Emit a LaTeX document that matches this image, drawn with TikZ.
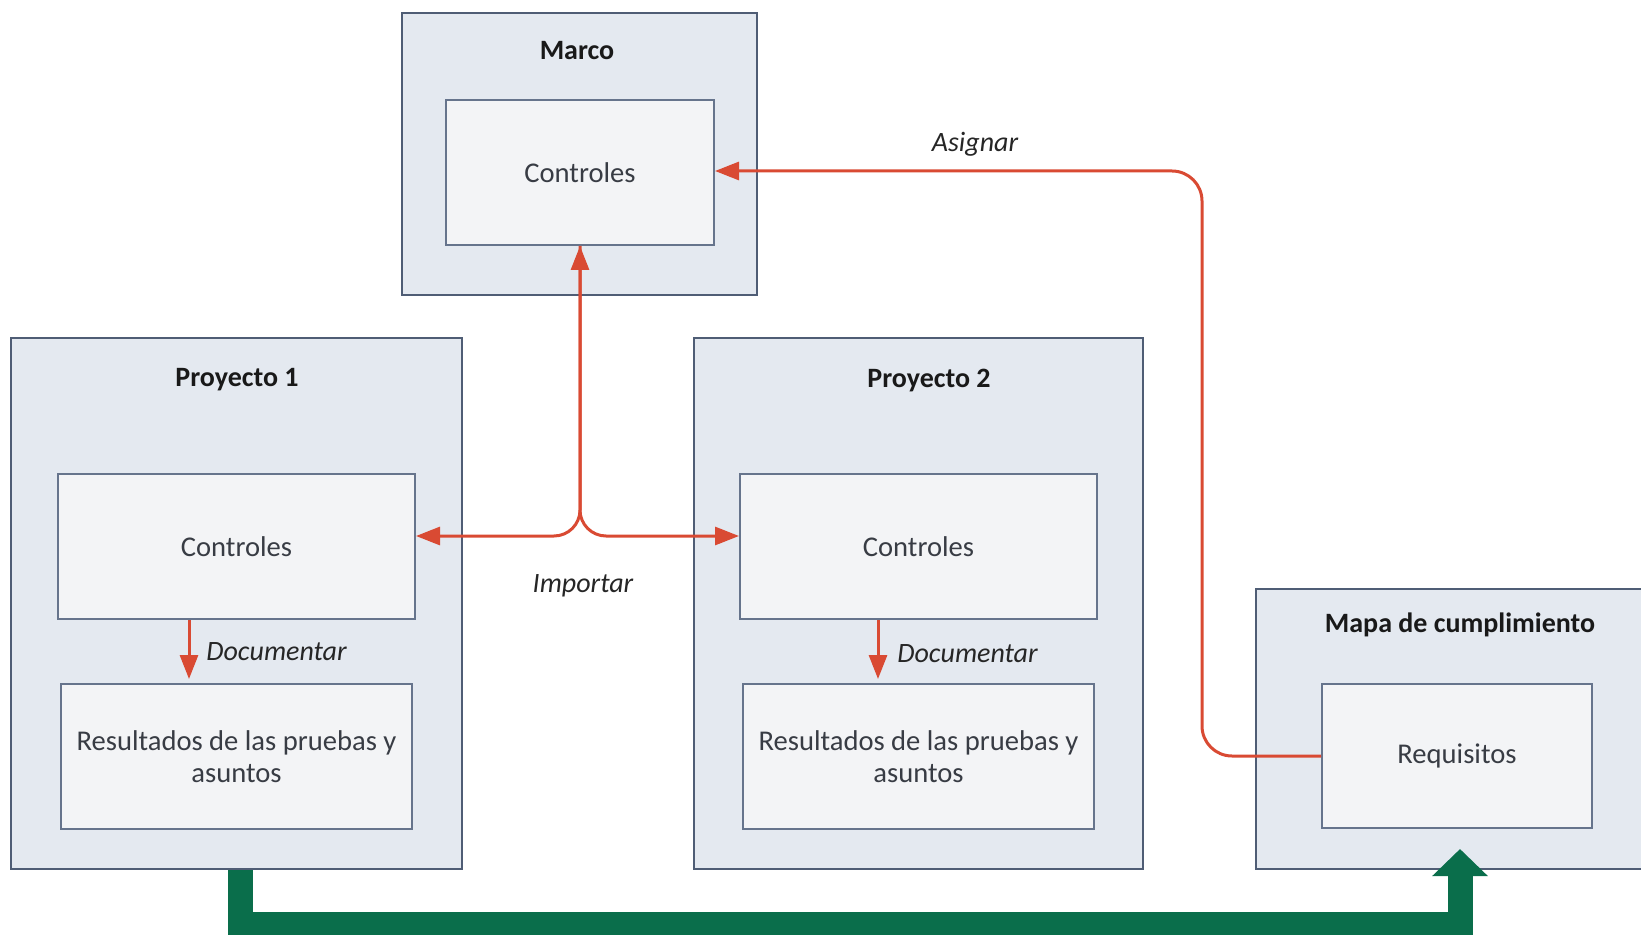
\documentclass[tikz,border=0pt]{standalone}
\usepackage{fontspec}
\setmainfont{Carlito}
\usetikzlibrary{arrows.meta}
\definecolor{outerfill}{HTML}{E4E9F0}
\definecolor{outerdraw}{HTML}{4F5D75}
\definecolor{innerfill}{HTML}{F3F4F6}
\definecolor{innerdraw}{HTML}{66748C}
\definecolor{redc}{HTML}{D94A33}
\definecolor{greenc}{HTML}{0A6E4B}
\definecolor{txt}{HTML}{383C44}
\begin{document}
\begin{tikzpicture}[x=0.5pt,y=-0.5pt,
 outerbox/.style={draw=outerdraw, fill=outerfill, line width=1pt, inner sep=0pt},
 innerbox/.style={draw=innerdraw, fill=innerfill, line width=1pt, inner sep=0pt, text=txt, font=\fontsize{14.3}{16}\selectfont, align=center},
 title/.style={font=\fontsize{14}{16}\selectfont\bfseries, text=black!90, inner sep=0pt},
 lbl/.style={font=\fontsize{14}{16}\selectfont\itshape, text=black!85, inner sep=0pt},
 redtip/.tip={Triangle[length=12pt,width=9pt]},
 redline/.style={draw=redc, line width=1.5pt},
 redarrow/.style={redline, -redtip},
 greenarrow/.style={draw=greenc, line width=12.5pt, -{Triangle[length=13.5pt,width=27pt]}}]
\path[use as bounding box] (0,0) rectangle (1641,935);

% Marco
\node[outerbox, minimum width=177.5pt, minimum height=141pt] (marco) at (579.5,154) {};
\node[title] (tmarco) at (577,51) {Marco};
\node[innerbox, minimum width=134pt, minimum height=72.5pt] (mc) at (580,172.5) {Controles};

% Proyecto 1
\node[outerbox, minimum width=225.5pt, minimum height=265.5pt] (p1) at (236.5,603.5) {};
\node[title] (tp1) at (237,380) {Proyecto 1};
\node[innerbox, minimum width=178.5pt, minimum height=72.5pt] (p1c) at (236.5,546.5) {Controles};
\node[innerbox, minimum width=175.5pt, minimum height=72.5pt] (p1r) at (236.5,756.5) {Resultados de las pruebas y\\asuntos};

% Proyecto 2
\node[outerbox, minimum width=224.5pt, minimum height=265.5pt] (p2) at (918.5,603.5) {};
\node[title] (tp2) at (929,381) {Proyecto 2};
\node[innerbox, minimum width=178.5pt, minimum height=72.5pt] (p2c) at (918.5,546.5) {Controles};
\node[innerbox, minimum width=175.5pt, minimum height=72.5pt] (p2r) at (918.5,756.5) {Resultados de las pruebas y\\asuntos};

% Mapa de cumplimiento
\node[outerbox, minimum width=202pt, minimum height=140pt] (mapa) at (1458,729) {};
\node[title] (tmapa) at (1460,625) {Mapa de cumplimiento};
\node[innerbox, minimum width=135pt, minimum height=72pt] (req) at (1457,756) {Requisitos};

% Asignar
\coordinate (asg) at (1202,171);
\draw[redarrow, rounded corners=15pt] (req.west) -| (asg) -- (mc.east |- asg);
\node[lbl] (lasg) at (975,144) {Asignar};

% Importar
\coordinate (imp) at (580,536);
\draw[redline, redtip-redtip, rounded corners=13pt] (p1c.east |- imp) -| (mc.south);
\draw[redarrow, rounded corners=13pt] (mc.south) |- (p2c.west |- imp);
\node[lbl] (limp) at (583,586) {Importar};

% Documentar
\coordinate (d1) at (189,650);
\coordinate (d2) at (878,650);
\draw[redarrow, shorten >=2pt] (p1c.south -| d1) -- (p1r.north -| d1);
\draw[redarrow, shorten >=2pt] (p2c.south -| d2) -- (p2r.north -| d2);
\node[lbl, anchor=west] (ld1) at (206,652) {Documentar};
\node[lbl, anchor=west] (ld2) at (897,654) {Documentar};

% Green flow
\coordinate (gt) at (1460,849);
\draw[greenarrow] ([xshift=1.75pt]p1.south) -- ++(0,54) -| (gt);
\end{tikzpicture}
\end{document}
